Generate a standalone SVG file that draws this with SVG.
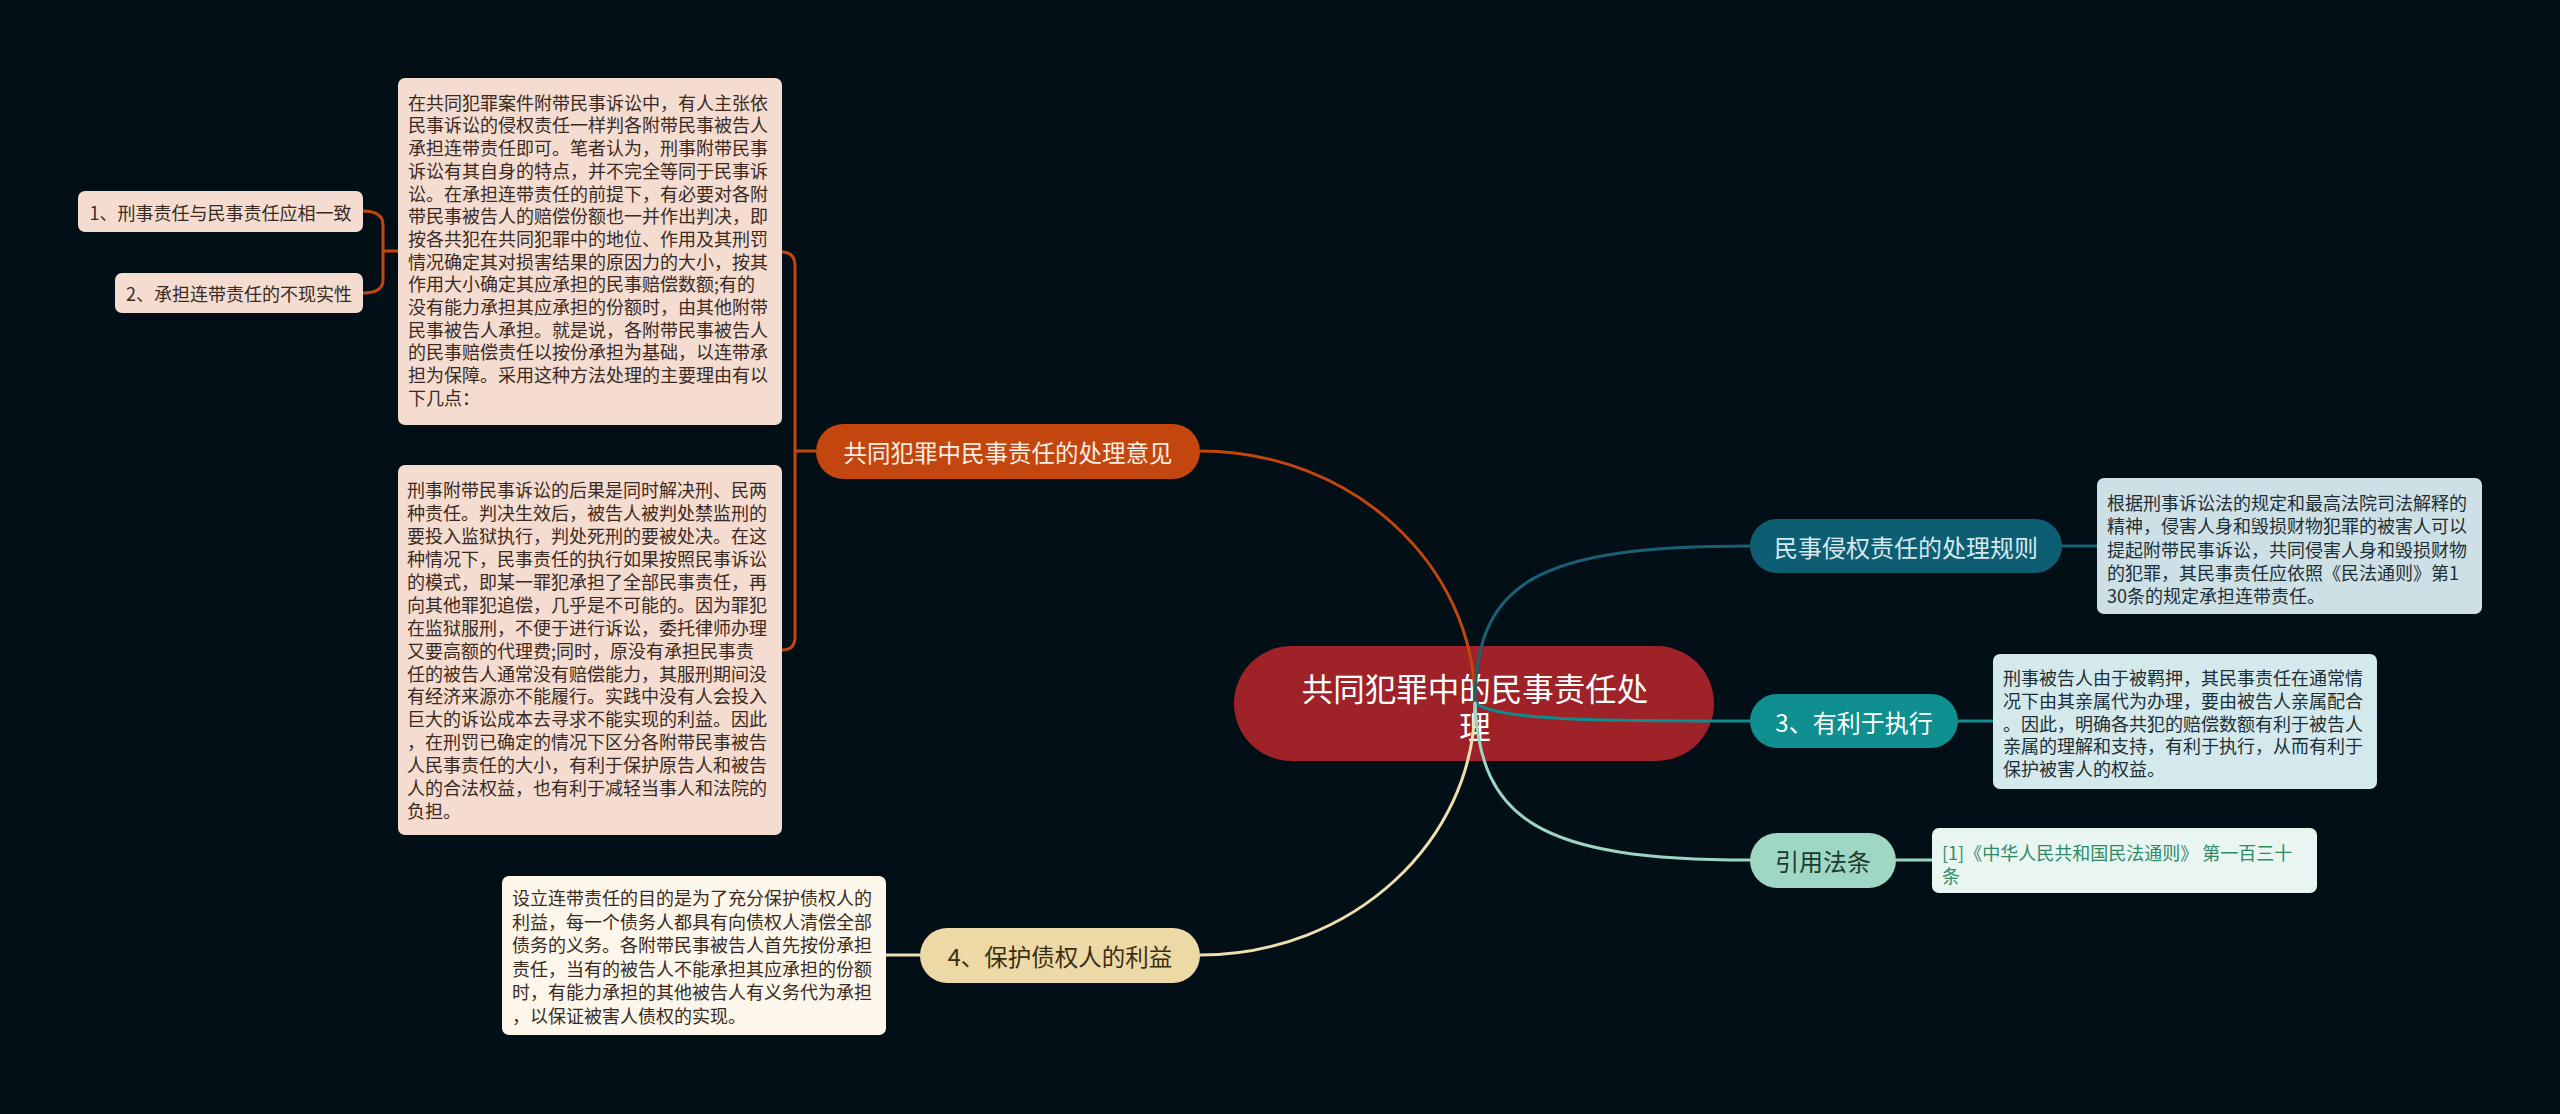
<svg xmlns="http://www.w3.org/2000/svg" width="2560" height="1114" viewBox="0 0 2560 1114">
<style>
text{font-family:"Noto Sans CJK SC","Noto Sans",sans-serif;dominant-baseline:central}
.t18{font-size:18px}
.dark{fill:#3a2a22}
.blue{fill:#1d2f36}
.c{text-anchor:middle}
.ln{fill:none;stroke-width:3;stroke-linecap:round}
</style>
<rect width="2560" height="1114" fill="#030f17"/>
<g id="center">
<rect x="1234" y="646" width="480" height="115" rx="57.5" fill="#9e2228"/>
<text class="c" x="1475" y="687" font-size="31.5" fill="#ffffff">共同犯罪中的民事责任处</text>
<text class="c" x="1475" y="725" font-size="31.5" fill="#ffffff">理</text>
</g>
<g id="connectors">
<path class="ln" stroke="#c2460e" d="M1200,451 C1352,451 1475,565 1475,703"/>
<path class="ln" stroke="#efdfae" d="M1200,955 C1352,955 1475,841 1475,703"/>
<path class="ln" stroke="#1a6075" d="M1475,703 C1475,580 1540,546 1750,546"/>
<path class="ln" stroke="#0f8c8e" d="M1475,703 C1500,721 1600,721 1750,721"/>
<path class="ln" stroke="#9bd6c2" d="M1475,703 C1480,820 1540,860 1750,860"/>
<path class="ln" stroke="#1a6075" d="M2062,546 L2097,546"/>
<path class="ln" stroke="#0f8c8e" d="M1958,721 L1993,721"/>
<path class="ln" stroke="#9bd6c2" d="M1896,860 L1932,860"/>
<path class="ln" stroke="#efdfae" d="M886,955 L920,955"/>
<path class="ln" stroke="#c2460e" stroke-width="2.5" d="M817,451 L795,451 M782,252 Q795,252 795,266 L795,637 Q795,650 782,650"/>
<path class="ln" stroke="#c2460e" stroke-width="2.5" d="M398,251 L383,251 M363,211 Q383,211 383,225 L383,280 Q383,293 363,293"/>
</g>
<g id="n-opinion">
<rect x="816" y="424" width="384" height="55" rx="27.5" fill="#c2460e"/>
<text class="c" x="1008" y="451.5" font-size="23.5" fill="#fbeee4">共同犯罪中民事责任的处理意见</text>
</g>
<g id="n-box1">
<rect x="398" y="78" width="384" height="347" rx="7" fill="#f4dcd0"/>
<g class="t18 dark">
<text x="408" y="101.7">在共同犯罪案件附带民事诉讼中，有人主张依</text>
<text x="408" y="124.4">民事诉讼的侵权责任一样判各附带民事被告人</text>
<text x="408" y="147.1">承担连带责任即可。笔者认为，刑事附带民事</text>
<text x="408" y="169.8">诉讼有其自身的特点，并不完全等同于民事诉</text>
<text x="408" y="192.5">讼。在承担连带责任的前提下，有必要对各附</text>
<text x="408" y="215.2">带民事被告人的赔偿份额也一并作出判决，即</text>
<text x="408" y="237.9">按各共犯在共同犯罪中的地位、作用及其刑罚</text>
<text x="408" y="260.6">情况确定其对损害结果的原因力的大小，按其</text>
<text x="408" y="283.3">作用大小确定其应承担的民事赔偿数额;有的</text>
<text x="408" y="306.0">没有能力承担其应承担的份额时，由其他附带</text>
<text x="408" y="328.7">民事被告人承担。就是说，各附带民事被告人</text>
<text x="408" y="351.4">的民事赔偿责任以按份承担为基础，以连带承</text>
<text x="408" y="374.1">担为保障。采用这种方法处理的主要理由有以</text>
<text x="408" y="396.8">下几点：</text>
</g>
</g>
<g id="n-sub1">
<rect x="78" y="191" width="285" height="41" rx="7" fill="#f4dcd0"/>
<text class="c t18 dark" x="220.5" y="211.5">1、刑事责任与民事责任应相一致</text>
</g>
<g id="n-sub2">
<rect x="115" y="273" width="248" height="40" rx="7" fill="#f4dcd0"/>
<text class="c t18 dark" x="239" y="293">2、承担连带责任的不现实性</text>
</g>
<g id="n-box2">
<rect x="398" y="465" width="384" height="370" rx="7" fill="#f4dcd0"/>
<g class="t18 dark">
<text x="407" y="489.3">刑事附带民事诉讼的后果是同时解决刑、民两</text>
<text x="407" y="512.2">种责任。判决生效后，被告人被判处禁监刑的</text>
<text x="407" y="535.1">要投入监狱执行，判处死刑的要被处决。在这</text>
<text x="407" y="558.0">种情况下，民事责任的执行如果按照民事诉讼</text>
<text x="407" y="580.9">的模式，即某一罪犯承担了全部民事责任，再</text>
<text x="407" y="603.8">向其他罪犯追偿，几乎是不可能的。因为罪犯</text>
<text x="407" y="626.7">在监狱服刑，不便于进行诉讼，委托律师办理</text>
<text x="407" y="649.6">又要高额的代理费;同时，原没有承担民事责</text>
<text x="407" y="672.5">任的被告人通常没有赔偿能力，其服刑期间没</text>
<text x="407" y="695.4">有经济来源亦不能履行。实践中没有人会投入</text>
<text x="407" y="718.3">巨大的诉讼成本去寻求不能实现的利益。因此</text>
<text x="407" y="741.2">，在刑罚已确定的情况下区分各附带民事被告</text>
<text x="407" y="764.1">人民事责任的大小，有利于保护原告人和被告</text>
<text x="407" y="787.0">人的合法权益，也有利于减轻当事人和法院的</text>
<text x="407" y="809.9">负担。</text>
</g>
</g>
<g id="n-protect">
<rect x="920" y="928" width="280" height="55" rx="27.5" fill="#ecd9a6"/>
<text class="c" x="1060" y="955.5" font-size="23.5" fill="#3a2e12">4、保护债权人的利益</text>
</g>
<g id="n-box4">
<rect x="502" y="876" width="384" height="159" rx="7" fill="#fcf7ea"/>
<g class="t18 dark">
<text x="512" y="897.3">设立连带责任的目的是为了充分保护债权人的</text>
<text x="512" y="920.8">利益，每一个债务人都具有向债权人清偿全部</text>
<text x="512" y="944.3">债务的义务。各附带民事被告人首先按份承担</text>
<text x="512" y="967.8">责任，当有的被告人不能承担其应承担的份额</text>
<text x="512" y="991.3">时，有能力承担的其他被告人有义务代为承担</text>
<text x="512" y="1014.8">，以保证被害人债权的实现。</text>
</g>
</g>
<g id="n-rule">
<rect x="1750" y="519" width="312" height="54" rx="27" fill="#0e5e73"/>
<text class="c" x="1906" y="546" font-size="24" fill="#d6e9ef">民事侵权责任的处理规则</text>
</g>
<g id="n-box-r1">
<rect x="2097" y="478" width="385" height="136" rx="7" fill="#cde0e6"/>
<g class="t18 blue">
<text x="2107" y="502">根据刑事诉讼法的规定和最高法院司法解释的</text>
<text x="2107" y="525.3">精神，侵害人身和毁损财物犯罪的被害人可以</text>
<text x="2107" y="548.6">提起附带民事诉讼，共同侵害人身和毁损财物</text>
<text x="2107" y="571.9">的犯罪，其民事责任应依照《民法通则》第1</text>
<text x="2107" y="595.2">30条的规定承担连带责任。</text>
</g>
</g>
<g id="n-exec">
<rect x="1750" y="694" width="208" height="54" rx="27" fill="#0f8f90"/>
<text class="c" x="1854" y="721" font-size="24" fill="#ffffff">3、有利于执行</text>
</g>
<g id="n-box-r2">
<rect x="1993" y="654" width="384" height="135" rx="7" fill="#d3e9ec"/>
<g class="t18 blue">
<text x="2003" y="677.3">刑事被告人由于被羁押，其民事责任在通常情</text>
<text x="2003" y="700.0">况下由其亲属代为办理，要由被告人亲属配合</text>
<text x="2003" y="722.7">。因此，明确各共犯的赔偿数额有利于被告人</text>
<text x="2003" y="745.4">亲属的理解和支持，有利于执行，从而有利于</text>
<text x="2003" y="768.1">保护被害人的权益。</text>
</g>
</g>
<g id="n-law">
<rect x="1750" y="833" width="146" height="55" rx="27.5" fill="#9ed7c3"/>
<text class="c" x="1823" y="860.5" font-size="24" fill="#1c3a30">引用法条</text>
</g>
<g id="n-box-r3">
<rect x="1932" y="828" width="385" height="65" rx="7" fill="#e8f5f1"/>
<g class="t18" fill="#2f8a68">
<text x="1942" y="852">[1]《中华人民共和国民法通则》 第一百三十</text>
<text x="1942" y="874.5">条</text>
</g>
</g>
</svg>
